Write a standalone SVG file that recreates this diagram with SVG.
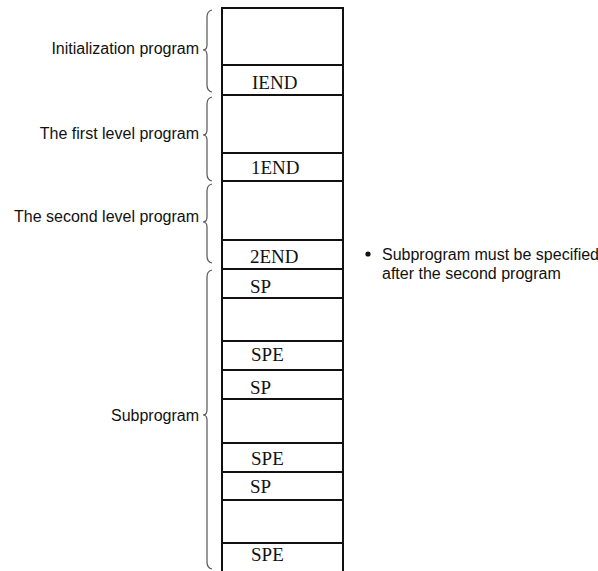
<svg xmlns="http://www.w3.org/2000/svg" width="598" height="571" viewBox="0 0 598 571">
<style>
.cell{fill:#fff;stroke:#111;stroke-width:2}
.code{font-family:"Liberation Serif","Times New Roman",serif;font-size:19px;fill:#111}
.lbl{font-family:"Liberation Sans",Arial,sans-serif;font-size:16px;fill:#111;text-anchor:end}
.note{font-family:"Liberation Sans",Arial,sans-serif;font-size:16px;fill:#111}
.brace{fill:none;stroke:#555;stroke-width:1.2}
</style>
<rect width="598" height="571" fill="#fff"/>
<g id="stack">
<g id="init-body"><rect class="cell" x="222" y="8" width="121" height="57"/></g>
<g id="iend"><rect class="cell" x="222" y="65" width="121" height="30"/><text class="code" x="252" y="89">IEND</text></g>
<g id="first-body"><rect class="cell" x="222" y="95" width="121" height="58"/></g>
<g id="1end"><rect class="cell" x="222" y="153" width="121" height="28"/><text class="code" x="251" y="174">1END</text></g>
<g id="second-body"><rect class="cell" x="222" y="181" width="121" height="59"/></g>
<g id="2end"><rect class="cell" x="222" y="240" width="121" height="29"/><text class="code" x="250" y="263">2END</text></g>
<g id="sp1"><rect class="cell" x="222" y="269" width="121" height="29"/><text class="code" x="250" y="293">SP</text></g>
<g id="sub1-body"><rect class="cell" x="222" y="298" width="121" height="43"/></g>
<g id="spe1"><rect class="cell" x="222" y="341" width="121" height="29"/><text class="code" x="251" y="361">SPE</text></g>
<g id="sp2"><rect class="cell" x="222" y="370" width="121" height="29"/><text class="code" x="250" y="394">SP</text></g>
<g id="sub2-body"><rect class="cell" x="222" y="399" width="121" height="44"/></g>
<g id="spe2"><rect class="cell" x="222" y="443" width="121" height="29"/><text class="code" x="251" y="465">SPE</text></g>
<g id="sp3"><rect class="cell" x="222" y="472" width="121" height="28"/><text class="code" x="250" y="493">SP</text></g>
<g id="sub3-body"><rect class="cell" x="222" y="500" width="121" height="43"/></g>
<g id="spe3"><rect class="cell" x="222" y="543" width="121" height="30"/><text class="code" x="251" y="561">SPE</text></g>
</g>
<g id="connectors">
<g id="brace-init"><path class="brace" d="M212,10 Q207,11 207,17 L207,45 Q207,50 203,50 Q207,50 207,55 L207,85 Q207,91 212,92"/><text class="lbl" x="199" y="54">Initialization program</text></g>
<g id="brace-first"><path class="brace" d="M212,97 Q207,98 207,104 L207,130 Q207,135 203,135 Q207,135 207,140 L207,174 Q207,180 212,181"/><text class="lbl" x="199" y="139">The first level program</text></g>
<g id="brace-second"><path class="brace" d="M212,184 Q207,185 207,191 L207,217 Q207,222 203,222 Q207,222 207,227 L207,256 Q207,262 212,263"/><text class="lbl" x="199" y="222">The second level program</text></g>
<g id="brace-sub"><path class="brace" d="M212,270 Q207,271 207,277 L207,410 Q207,415 203,415 Q207,415 207,420 L207,562 Q207,568 212,569"/><text class="lbl" x="199" y="421">Subprogram</text></g>
</g>
<g id="note">
<circle cx="368" cy="254" r="2.6" fill="#111"/>
<text class="note" x="382" y="260">Subprogram must be specified</text>
<text class="note" x="382" y="279">after the second program</text>
</g>
</svg>
